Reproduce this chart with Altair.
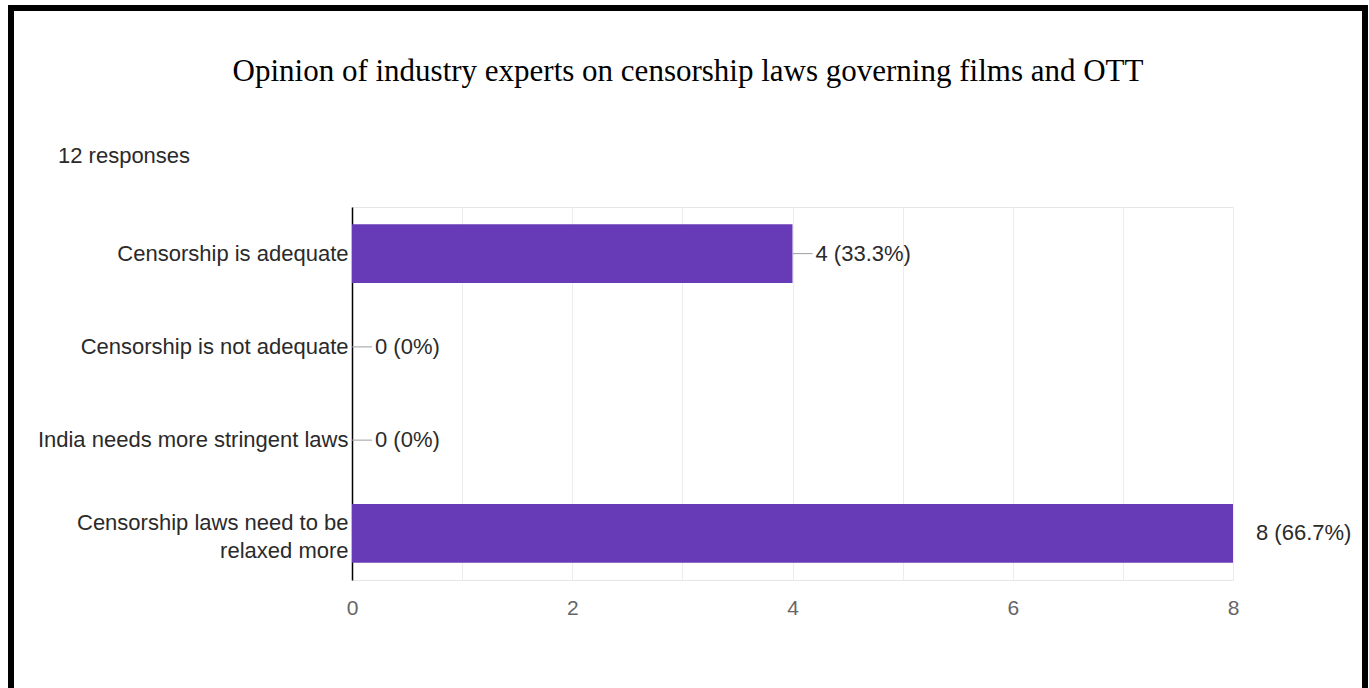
import altair as alt
import pandas as pd

categories = [
    "Censorship is adequate",
    "Censorship is not adequate",
    "India needs more stringent laws",
    "Censorship laws need to be relaxed more",
]
counts = [4, 0, 0, 8]
value_labels = ["4 (33.3%)", "0 (0%)", "0 (0%)", "8 (66.7%)"]
x_ticks = [0, 1, 2, 3, 4, 5, 6, 7, 8]
title_text = "Opinion of industry experts on censorship laws governing films and OTT"
responses_text = "12 responses"

df = pd.DataFrame({"category": categories, "count": counts, "label": value_labels})

LEFT, TOP = 352, 207
W, H = 881, 373
SANS = "Liberation Sans"
WRAPPED = "Censorship laws need to be relaxed more"

y_enc = alt.Y(
    "category:N",
    sort=categories,
    title=None,
    scale=alt.Scale(paddingInner=0.37, paddingOuter=0.185),
    axis=alt.Axis(
        domain=True, domainColor="#000000", domainWidth=1.5, ticks=False,
        labelPadding=4, labelFontSize=22, labelColor="#2a2a2a", labelFont=SANS,
        labelLimit=400, grid=False,
        labelExpr=f"datum.label == '{WRAPPED}' ? ['Censorship laws need to be', 'relaxed more'] : datum.label",
        labelLineHeight=28,
        labelOffset={"condition": {"test": f"datum.value == '{WRAPPED}'", "value": -10}, "value": 0},
    ),
)
x_enc = alt.X(
    "count:Q",
    title=None,
    scale=alt.Scale(domain=[0, 8], nice=False, zero=True),
    axis=alt.Axis(
        values=x_ticks, format="d", labelFlush=False,
        labelExpr="datum.value % 2 == 0 ? datum.label : ''",
        domain=False, ticks=False, grid=True, gridColor="#ececec", gridWidth=1,
        labelFontSize=21, labelColor="#666666", labelFont=SANS, labelPadding=17,
    ),
)

base = alt.Chart(df)
bars = base.mark_bar(color="#673ab7").encode(x=x_enc, y=y_enc)
leaders = base.transform_joinaggregate(maxc="max(count)").transform_filter(
    "datum.count < datum.maxc"
).mark_rule(color="#9e9e9e", strokeWidth=1, x2Offset=20).encode(
    x="count:Q", x2="count:Q", y=alt.Y("category:N", sort=categories, bandPosition=0.5)
)
texts = base.mark_text(align="left", baseline="middle", dx=23, fontSize=22,
                       font=SANS, color="#2a2a2a").encode(
    x="count:Q", y=alt.Y("category:N", sort=categories), text="label:N"
)

title = alt.Chart(pd.DataFrame({"t": [title_text]})).mark_text(
    align="center", baseline="alphabetic", font="Liberation Serif", fontSize=31, color="#000000"
).encode(text="t:N", x=alt.value(688 - LEFT), y=alt.value(81 - TOP))

resp = alt.Chart(pd.DataFrame({"t": [responses_text]})).mark_text(
    align="left", baseline="alphabetic", font=SANS, fontSize=22, color="#2a2a2a"
).encode(text="t:N", x=alt.value(58 - LEFT), y=alt.value(163 - TOP))

frame = alt.Chart(pd.DataFrame({"a": [1]})).mark_rect(
    filled=False, stroke="#000000", strokeWidth=6
).encode(
    x=alt.value(11 - LEFT), x2=alt.value(1365 - LEFT),
    y=alt.value(8 - TOP), y2=alt.value(692 - TOP),
)

chart = alt.layer(bars, leaders, texts, title, resp, frame).properties(
    width=W, height=H,
    autosize=alt.AutoSizeParams(type="none"),
    padding={"left": LEFT, "top": TOP, "right": 1369 - LEFT - W, "bottom": 688 - TOP - H},
    background="#ffffff",
).configure_view(stroke="#e6e6e6", strokeWidth=1)

chart.save("out.html", embed_options={"renderer": "svg", "actions": False})
